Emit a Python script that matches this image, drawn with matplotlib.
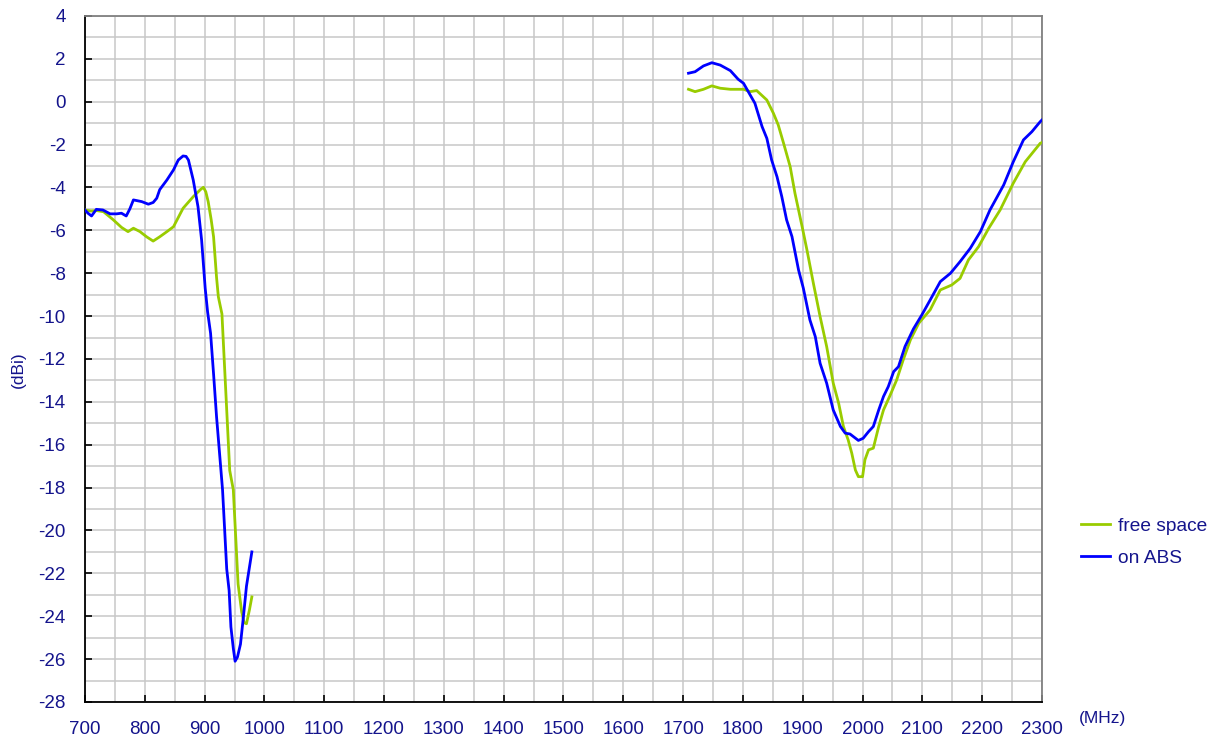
import numpy as np
import matplotlib
matplotlib.use("Agg")
import matplotlib.pyplot as plt

plt.rcParams["font.family"] = ["Liberation Sans", "DejaVu Sans"]
plt.rcParams["axes.unicode_minus"] = False

TXT = "#14148c"

# low band, on ABS
abs_lo_f = [700, 705, 711, 719, 730, 742, 753, 761, 769, 775, 781, 795, 806, 814, 820,
            825, 837, 848, 856, 864, 869, 873, 881, 889, 895, 901, 905, 910, 915, 920,
            925, 930, 937, 941, 944, 948, 951, 955, 960, 965, 970, 979]
abs_lo_v = [-5.05, -5.2, -5.33, -5.02, -5.05, -5.23, -5.23, -5.2, -5.33, -5.0, -4.58, -4.66,
            -4.78, -4.7, -4.5, -4.1, -3.65, -3.18, -2.72, -2.53, -2.55, -2.72, -3.65, -4.9,
            -6.45, -8.7, -9.8, -10.8, -12.7, -14.7, -16.4, -18.1, -21.8, -22.8, -24.5, -25.5,
            -26.1, -25.9, -25.3, -24.0, -22.6, -21.0]

# low band, free space
fs_lo_f = [700, 710, 720, 731, 747, 761, 772, 781, 792, 803, 814, 825, 837, 848, 856, 864,
           881, 893, 898, 902, 906, 911, 915, 920, 923, 929, 942, 948, 952, 956, 962, 966,
           970, 975, 979]
fs_lo_v = [-5.05, -5.1, -5.08, -5.13, -5.5, -5.86, -6.06, -5.9, -6.06, -6.3, -6.5, -6.3,
           -6.06, -5.83, -5.4, -4.97, -4.43, -4.1, -3.99, -4.2, -4.66, -5.5, -6.3, -8.2,
           -9.1, -9.9, -17.2, -18.1, -20.3, -22.5, -23.8, -24.3, -24.35, -23.7, -23.1]

# high band, on ABS
abs_hi_f = [1709, 1720, 1734, 1748, 1762, 1779, 1792, 1801, 1812, 1820, 1832, 1840, 1848,
            1857, 1865, 1873, 1882, 1893, 1901, 1912, 1921, 1929, 1940, 1951, 1963, 1971,
            1979, 1993, 2001, 2010, 2018, 2027, 2035, 2043, 2052, 2060, 2071, 2085, 2099,
            2113, 2130, 2147, 2163, 2180, 2197, 2213, 2236, 2252, 2269, 2283, 2297, 2300]
abs_hi_v = [1.33, 1.4, 1.67, 1.82, 1.71, 1.45, 1.05, 0.86, 0.32, -0.07, -1.16, -1.71, -2.72,
            -3.5, -4.43, -5.51, -6.29, -7.85, -8.7, -10.18, -10.96, -12.2, -13.13, -14.38,
            -15.15, -15.46, -15.5, -15.8, -15.7, -15.39, -15.15, -14.38, -13.75, -13.29,
            -12.59, -12.36, -11.42, -10.6, -9.95, -9.25, -8.39, -8.0, -7.46, -6.84, -6.06,
            -5.05, -3.88, -2.8, -1.78, -1.4, -0.93, -0.85]

# high band, free space
fs_hi_f = [1709, 1720, 1734, 1748, 1762, 1779, 1801, 1812, 1823, 1840, 1851, 1859, 1868,
           1879, 1887, 1899, 1907, 1918, 1929, 1940, 1951, 1960, 1968, 1976, 1982, 1988,
           1993, 2000, 2004, 2010, 2018, 2027, 2035, 2046, 2057, 2068, 2080, 2094, 2113,
           2130, 2149, 2163, 2177, 2194, 2211, 2230, 2252, 2272, 2297, 2300]
fs_hi_v = [0.58, 0.47, 0.58, 0.74, 0.63, 0.58, 0.58, 0.47, 0.52, 0.08, -0.54, -1.08, -1.94,
           -3.03, -4.27, -5.83, -6.91, -8.5, -10.02, -11.42, -13.13, -14.06, -15.15, -15.78,
           -16.4, -17.18, -17.49, -17.49, -16.7, -16.24, -16.16, -15.15, -14.38, -13.7,
           -12.98, -12.04, -11.11, -10.33, -9.71, -8.78, -8.55, -8.24, -7.38, -6.76, -5.9,
           -5.05, -3.8, -2.8, -1.94, -1.9]

fig = plt.figure(figsize=(12.19, 7.40), dpi=100)
ax = fig.add_axes([0.0697, 0.0514, 0.7851, 0.927])

# join the two bands with a gap
fs_f = fs_lo_f + [np.nan] + fs_hi_f
fs_v = fs_lo_v + [np.nan] + fs_hi_v
abs_f = abs_lo_f + [np.nan] + abs_hi_f
abs_v = abs_lo_v + [np.nan] + abs_hi_v

ax.plot(fs_f, fs_v, color="#99cc00", lw=2.0, label="free space", zorder=3)
ax.plot(abs_f, abs_v, color="#0000ff", lw=2.0, label="on ABS", zorder=4)

ax.set_xlim(700, 2300)
ax.set_ylim(-28, 4)
ax.set_xticks(np.arange(700, 2301, 100))
ax.set_yticks(np.arange(-28, 5, 2))
ax.set_xticks(np.arange(700, 2301, 50), minor=True)
ax.set_yticks(np.arange(-28, 5, 1), minor=True)
ax.grid(which="both", color="#c8c8c8", lw=1.1)
ax.set_axisbelow(True)

ax.tick_params(which="major", direction="in", length=5, width=1.2, colors="black",
               labelcolor=TXT, labelsize=13.5, pad=14)
ax.tick_params(which="minor", length=0)
ax.tick_params(axis="x", pad=14)

for side in ["left", "bottom"]:
    ax.spines[side].set_color("black")
    ax.spines[side].set_linewidth(1.3)
for side in ["top", "right"]:
    ax.spines[side].set_color("#808080")
    ax.spines[side].set_linewidth(1.3)

fig.text(18 / 1219, 1 - 370 / 740, "(dBi)", rotation=90, ha="center", va="center",
         color=TXT, fontsize=12.5)
fig.text(1102 / 1219, 1 - 719 / 740, "(MHz)", ha="center", va="center",
         color=TXT, fontsize=12.5)

fig.legend(loc="center left", bbox_to_anchor=(1073 / 1219, 1 - 542 / 740), frameon=False,
           borderaxespad=0, fontsize=13.8, handlelength=1.55, handletextpad=0.4,
           labelspacing=0.75, labelcolor=TXT)

fig.savefig("out.png", dpi=100)
